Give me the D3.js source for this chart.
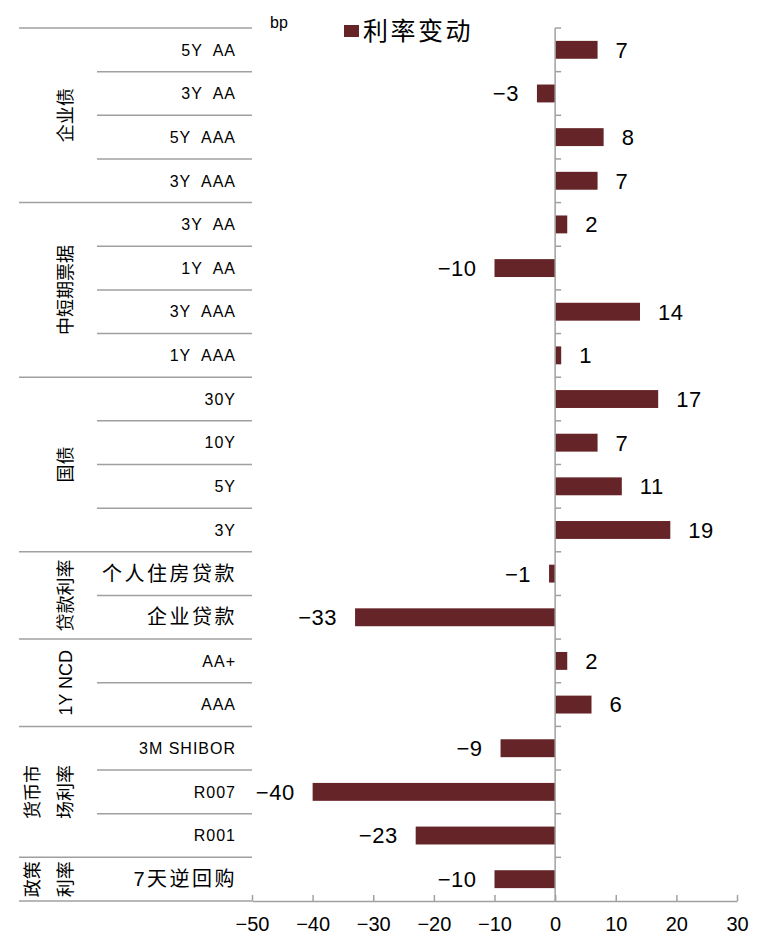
<!DOCTYPE html>
<html>
<head>
<meta charset="utf-8">
<script src="https://cdn.jsdelivr.net/npm/d3@7"></script>
<style>
  body { margin: 0; background: #fff; }
  text { font-family: "Liberation Sans", "Noto Sans CJK SC", sans-serif; fill: #000; }
</style>
</head>
<body>
<svg id="svg" width="768" height="943"></svg>
<script>
var items = ["5Y  AA", "3Y  AA", "5Y  AAA", "3Y  AAA",
             "3Y  AA", "1Y  AA", "3Y  AAA", "1Y  AAA",
             "30Y", "10Y", "5Y", "3Y",
             "个人住房贷款", "企业贷款",
             "AA+", "AAA",
             "3M SHIBOR", "R007", "R001",
             "7天逆回购"];
var values = [7, -3, 8, 7, 2, -10, 14, 1, 17, 7, 11, 19, -1, -33, 2, 6, -9, -40, -23, -10];
var groups = [["企业债"], ["中短期票据"], ["国债"], ["贷款利率"], ["1Y NCD"], ["货币市", "场利率"], ["政策", "利率"]];
var groupSizes = [4, 4, 4, 2, 2, 3, 1];
var xTicks = [-50, -40, -30, -20, -10, 0, 10, 20, 30];

var svg = d3.select("#svg");
var barColor = "#652427";
var lineColor = "#a0a0a0";
var minus = function(d) { return d < 0 ? "\u2212" + Math.abs(d) : "" + d; };

var x = d3.scaleLinear().domain([-50, 30]).range([252, 737]);
var y = d3.scaleBand().domain(d3.range(items.length)).range([28, 901]).paddingInner(0.59).paddingOuter(0.295);
var step = y.step();
var top0 = 28;

// separator lines in label area
var starts = [];
var acc = 0;
groupSizes.forEach(function(n) { starts.push(acc); acc += n; });
var seps = d3.range(items.length + 1).map(function(i) {
  return { i: i, major: i === 0 || i === items.length || starts.indexOf(i) >= 0 };
});
svg.selectAll("line.sep").data(seps).enter().append("line")
  .attr("class", "sep")
  .attr("x1", function(d) { return d.major ? 19 : 97; })
  .attr("x2", 252)
  .attr("y1", function(d) { return top0 + d.i * step; })
  .attr("y2", function(d) { return top0 + d.i * step; })
  .attr("stroke", lineColor).attr("stroke-width", 1.5);

// item labels
var isCJK = function(s) { return /[\u4e00-\u9fff]/.test(s); };
svg.selectAll("text.item").data(items).enter().append("text")
  .attr("class", "item")
  .attr("x", function(d) { return isCJK(d) ? 237 : 236; })
  .attr("y", function(d, i) { return y(i) + y.bandwidth() / 2; })
  .attr("dy", "0.36em")
  .attr("text-anchor", "end")
  .attr("font-size", function(d) { return isCJK(d) ? 20 : 16; })
  .attr("letter-spacing", function(d) { return isCJK(d) ? 2.5 : 1; })
  .attr("xml:space", "preserve")
  .text(function(d) { return d; });

// group labels (rotated)
groups.forEach(function(g, gi) {
  var cy = top0 + (starts[gi] + groupSizes[gi] / 2) * step;
  var colX = g.length === 1 ? [66] : [33, 66];
  g.forEach(function(t, k) {
    svg.append("text")
      .attr("transform", "translate(" + colX[k] + "," + cy + ") rotate(-90)")
      .attr("text-anchor", "middle")
      .attr("dy", "0.36em")
      .attr("font-size", 18)
      .text(t);
  });
});

// bars
svg.selectAll("rect.bar").data(values).enter().append("rect")
  .attr("class", "bar")
  .attr("x", function(d) { return x(Math.min(0, d)); })
  .attr("y", function(d, i) { return y(i); })
  .attr("width", function(d) { return Math.abs(x(d) - x(0)); })
  .attr("height", y.bandwidth())
  .attr("fill", barColor);

// value labels
svg.selectAll("text.val").data(values).enter().append("text")
  .attr("class", "val")
  .attr("x", function(d) { return d >= 0 ? x(d) + 18 : x(d) - 18; })
  .attr("y", function(d, i) { return y(i) + y.bandwidth() / 2; })
  .attr("dy", "0.36em")
  .attr("text-anchor", function(d) { return d >= 0 ? "start" : "end"; })
  .attr("font-size", 22)
  .attr("letter-spacing", 0.5)
  .text(minus);

// vertical zero axis with ticks on the right
svg.append("line")
  .attr("x1", x(0)).attr("x2", x(0))
  .attr("y1", top0).attr("y2", 901)
  .attr("stroke", lineColor).attr("stroke-width", 1.5);
svg.selectAll("line.ytick").data(d3.range(items.length)).enter().append("line")
  .attr("class", "ytick")
  .attr("x1", x(0)).attr("x2", x(0) + 6)
  .attr("y1", function(i) { return top0 + i * step; })
  .attr("y2", function(i) { return top0 + i * step; })
  .attr("stroke", lineColor).attr("stroke-width", 1.5);

// x axis
var xAxis = svg.append("g")
  .attr("transform", "translate(0,901)")
  .call(d3.axisBottom(x).tickValues(xTicks).tickSize(5).tickSizeOuter(0).tickFormat(minus));
xAxis.select(".domain").attr("stroke", lineColor).attr("stroke-width", 1.5);
xAxis.selectAll(".tick line").attr("stroke", lineColor).attr("stroke-width", 1.5)
  .attr("y1", 0).attr("y2", -6);
xAxis.selectAll(".tick text").attr("font-size", 20).attr("y", 16)
  .attr("font-family", "Liberation Sans, sans-serif").attr("fill", "#000");

// unit + legend
svg.append("text").attr("x", 270).attr("y", 28).attr("font-size", 16).text("bp");
svg.append("rect").attr("x", 344).attr("y", 25).attr("width", 15).attr("height", 12).attr("fill", barColor);
svg.append("text").attr("x", 363).attr("y", 31).attr("dy", "0.36em").attr("font-size", 25)
  .attr("letter-spacing", 2.5).text("利率变动");
</script>
</body>
</html>
